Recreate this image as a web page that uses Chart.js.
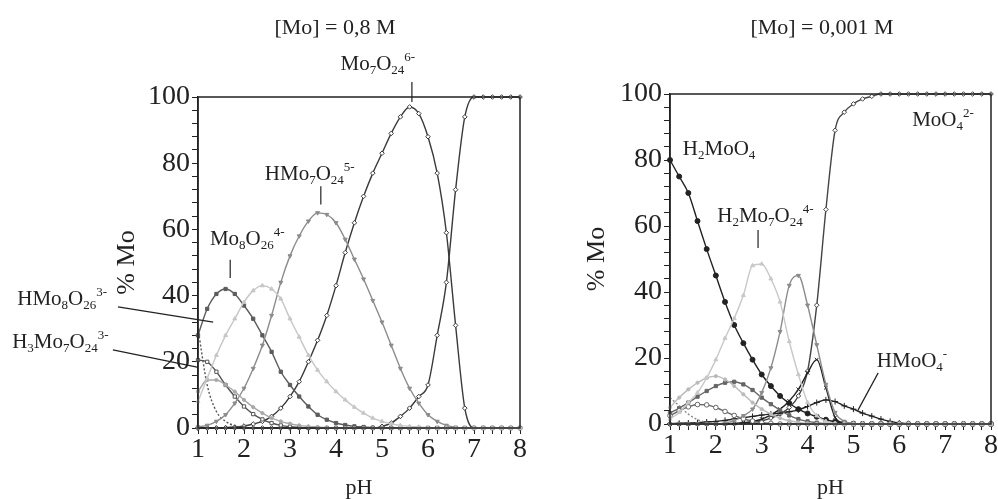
<!DOCTYPE html>
<html>
<head>
<meta charset="utf-8">
<script src="https://cdn.jsdelivr.net/npm/chart.js@4.4.1/dist/chart.umd.min.js"></script>
<style>
  body { margin: 0; background: #fff; }
  #wrap { position: relative; width: 998px; height: 499px; }
  canvas { position: absolute; top: 0; }
  #left { left: 0; }
  #right { left: 530px; }
</style>
</head>
<body>
<div id="wrap">
  <canvas id="left" width="530" height="499"></canvas>
  <canvas id="right" width="468" height="499"></canvas>
</div>
<script>
// valores de pH (iguais nos dois gráficos)
const phValues = [1.0, 1.2, 1.4, 1.6, 1.8, 2.0, 2.2, 2.4, 2.6, 2.8, 3.0, 3.2, 3.4, 3.6, 3.8, 4.0, 4.2, 4.4,
                  4.6, 4.8, 5.0, 5.2, 5.4, 5.6, 5.8, 6.0, 6.2, 6.4, 6.6, 6.8, 7.0, 7.2, 7.4, 7.6, 7.8, 8.0];

// [Mo] = 0,8 M  (% Mo)
const leftMo7O24 = [0, 0, 0, 0.1, 0.3, 0.6, 1.2, 2, 3.5, 6, 9.5, 14, 20, 26.5, 34, 43, 53, 62,
                    70, 77, 83, 89, 94, 97, 95, 88, 77, 59, 31, 6, 0, 0, 0, 0, 0, 0];
const leftMoO4 = [0, 0, 0, 0, 0, 0, 0, 0, 0, 0, 0, 0, 0, 0, 0, 0, 0, 0,
                  0, 0, 0.5, 1.5, 3.5, 6, 9.5, 13, 28, 44, 72, 94, 100, 100, 100, 100, 100, 100];
const leftHMo7O24 = [0.3, 0.8, 2, 4, 7.5, 12, 18, 25, 34, 44, 52, 58, 62.5, 65, 64.5, 62, 57, 51,
                     45, 38.5, 32, 25, 18, 12, 7.5, 4, 2, 0.8, 0.2, 0, 0, 0, 0, 0, 0, 0];
const leftLight = [8, 15, 22, 28, 33, 38, 41.5, 43, 42, 39, 33, 27.5, 22, 17.5, 14, 11, 8.5, 6.3,
                   4.5, 3, 2, 1.3, 0.8, 0.5, 0.3, 0.1, 0, 0, 0, 0, 0, 0, 0, 0, 0, 0];
const leftMo8O26 = [28, 36, 40.5, 42, 40.5, 37, 33, 28, 23, 17, 13, 9.5, 6.5, 4, 2.5, 1.5, 0.9, 0.5,
                    0.3, 0.1, 0, 0, 0, 0, 0, 0, 0, 0, 0, 0, 0, 0, 0, 0, 0, 0];
const leftH3Mo7O24 = [20.5, 20, 17, 13, 9.5, 6.5, 4.2, 2.6, 1.5, 0.8, 0.4, 0.2, 0, 0, 0, 0, 0, 0,
                      0, 0, 0, 0, 0, 0, 0, 0, 0, 0, 0, 0, 0, 0, 0, 0, 0, 0];
const leftMidLight = [11, 14.5, 14.5, 13, 11, 8.5, 6.3, 4.5, 3, 2, 1.3, 0.8, 0.5, 0.3, 0.1, 0, 0, 0,
                      0, 0, 0, 0, 0, 0, 0, 0, 0, 0, 0, 0, 0, 0, 0, 0, 0, 0];
const leftHMo8O26 = [30, 13, 5, 2, 0.7, 0.2, 0, 0, 0, 0, 0, 0, 0, 0, 0, 0, 0, 0,
                     0, 0, 0, 0, 0, 0, 0, 0, 0, 0, 0, 0, 0, 0, 0, 0, 0, 0];

// [Mo] = 0,001 M  (% Mo)
const rightH2MoO4 = [80, 75, 70, 61.5, 53, 45, 37, 30, 24.5, 19.5, 15, 11.5, 8.5, 6.3, 4.5, 3.2, 2.2, 1.3,
                     0.7, 0.3, 0.1, 0, 0, 0, 0, 0, 0, 0, 0, 0, 0, 0, 0, 0, 0, 0];
const rightMoO4 = [0, 0, 0, 0, 0, 0, 0, 0, 0.3, 0.6, 1, 1.8, 3, 5, 8.5, 16, 36, 65,
                   89, 94.5, 97, 98.5, 99.3, 100, 100, 100, 100, 100, 100, 100, 100, 100, 100, 100, 100, 100];
const rightH2Mo7O24 = [1.5, 3.5, 6.5, 9.5, 14, 19.5, 26, 32, 39, 48, 48.5, 44, 37, 25, 15, 6.5, 2.5, 0.8,
                       0.2, 0, 0, 0, 0, 0, 0, 0, 0, 0, 0, 0, 0, 0, 0, 0, 0, 0];
const rightMid = [0, 0, 0, 0, 0, 0, 0.3, 1, 2.5, 4.5, 9.5, 17, 28, 42, 45, 36, 24, 12,
                  3.5, 0.8, 0.2, 0, 0, 0, 0, 0, 0, 0, 0, 0, 0, 0, 0, 0, 0, 0];
const rightSharp = [0, 0, 0, 0, 0, 0, 0.1, 0.2, 0.4, 0.8, 1.5, 2.8, 4.5, 7, 10.5, 15.5, 19.5, 11,
                    2, 0.3, 0, 0, 0, 0, 0, 0, 0, 0, 0, 0, 0, 0, 0, 0, 0, 0];
const rightHMoO4 = [0.1, 0.2, 0.3, 0.4, 0.6, 0.8, 1.1, 1.5, 1.9, 2.3, 2.7, 3, 3.3, 3.7, 4.3, 5.3, 6.5, 7.3,
                    6.8, 5.5, 4.5, 3.3, 2.4, 1.5, 0.8, 0.3, 0.1, 0, 0, 0, 0, 0, 0, 0, 0, 0];
const rightSquares = [3.3, 4.8, 6.5, 8.3, 10, 11.5, 12.5, 12.8, 12, 10.3, 8, 6, 4.2, 2.6, 1.5, 0.8, 0.4, 0.1,
                      0, 0, 0, 0, 0, 0, 0, 0, 0, 0, 0, 0, 0, 0, 0, 0, 0, 0];
const rightLight = [5, 8, 10.5, 12.5, 14, 14.5, 13.5, 11.5, 9, 6.5, 4.5, 3, 1.8, 1, 0.5, 0.2, 0, 0,
                    0, 0, 0, 0, 0, 0, 0, 0, 0, 0, 0, 0, 0, 0, 0, 0, 0, 0];
const rightCircles = [2.5, 4, 5.2, 5.9, 5.8, 5, 3.8, 2.6, 1.6, 0.9, 0.4, 0.2, 0, 0, 0, 0, 0, 0,
                      0, 0, 0, 0, 0, 0, 0, 0, 0, 0, 0, 0, 0, 0, 0, 0, 0, 0];
const rightDashed = [8, 5.5, 3, 1.3, 0.5, 0.2, 0, 0, 0, 0, 0, 0, 0, 0, 0, 0, 0, 0,
                     0, 0, 0, 0, 0, 0, 0, 0, 0, 0, 0, 0, 0, 0, 0, 0, 0, 0];

const serif = '"Liberation Serif", "Times New Roman", serif';
const ink = '#222';

function toPoints(values) {
    return phValues.map(function (ph, i) { return { x: ph, y: values[i] }; });
}

function series(label, values, color, style, extra) {
    return Object.assign({
        label: label,
        data: toPoints(values),
        borderColor: color,
        backgroundColor: color,
        pointBorderColor: color,
        pointBackgroundColor: color,
        borderWidth: 1.4,
        pointStyle: style,
        pointRadius: 2.3,
        pointBorderWidth: 1,
        cubicInterpolationMode: 'monotone',
        clip: 3
    }, extra || {});
}

// desenha fórmula com índices (_) e cargas (^)
function drawFormula(ctx, text, x, y, align) {
    const parts = [];
    let i = 0;
    while (i < text.length) {
        if (text[i] === '_') {
            let j = i + 1;
            while (j < text.length && /\d/.test(text[j])) j++;
            parts.push({ t: text.slice(i + 1, j), k: 'sub' });
            i = j;
        } else if (text[i] === '^') {
            parts.push({ t: text.slice(i + 1), k: 'sup' });
            i = text.length;
        } else {
            let j = i;
            while (j < text.length && text[j] !== '_' && text[j] !== '^') j++;
            parts.push({ t: text.slice(i, j), k: 'n' });
            i = j;
        }
    }
    const big = '21px ' + serif, small = '13px ' + serif;
    let total = 0;
    parts.forEach(function (p) {
        ctx.font = p.k === 'n' ? big : small;
        p.w = ctx.measureText(p.t).width;
        total += p.w;
    });
    let cx = align === 'center' ? x - total / 2 : x;
    ctx.textAlign = 'left';
    ctx.textBaseline = 'alphabetic';
    parts.forEach(function (p) {
        ctx.font = p.k === 'n' ? big : small;
        const dy = p.k === 'sub' ? 4 : (p.k === 'sup' ? -9 : 0);
        ctx.fillText(p.t, cx, y + dy);
        cx += p.w;
    });
}

const speciesPlugin = {
    id: 'species',
    afterDatasetsDraw: function (chart, args, opts) {
        const ctx = chart.ctx;
        const xs = chart.scales.x, ys = chart.scales.y;
        const area = chart.chartArea;
        ctx.save();
        // moldura
        ctx.strokeStyle = ink;
        ctx.lineWidth = 1.5;
        ctx.strokeRect(area.left, area.top, area.right - area.left, area.bottom - area.top);
        // título
        ctx.fillStyle = ink;
        ctx.font = '22px ' + serif;
        ctx.textAlign = 'center';
        ctx.textBaseline = 'alphabetic';
        ctx.fillText(opts.title.text, opts.title.x, opts.title.y);
        // linhas indicadoras
        ctx.lineWidth = 1.2;
        (opts.leaders || []).forEach(function (l) {
            ctx.beginPath();
            ctx.moveTo(xs.getPixelForValue(l[0]), ys.getPixelForValue(l[1]));
            ctx.lineTo(xs.getPixelForValue(l[2]), ys.getPixelForValue(l[3]));
            ctx.stroke();
        });
        (opts.labels || []).forEach(function (lb) {
            drawFormula(ctx, lb.text, xs.getPixelForValue(lb.x), ys.getPixelForValue(lb.y), lb.align);
        });
        ctx.restore();
    }
};

function makeOptions(axisWidth, axisHeight, padLeft, padTop, padRight, species) {
    return {
        responsive: false,
        animation: false,
        layout: { padding: { left: padLeft, top: padTop, right: padRight, bottom: 0 } },
        plugins: { legend: { display: false }, tooltip: { enabled: false }, species: species },
        scales: {
            x: {
                type: 'linear', min: 1, max: 8,
                afterFit: function (s) { s.height = axisHeight; },
                ticks: {
                    stepSize: 0.2, autoSkip: false, maxRotation: 0, padding: 0, color: ink,
                    font: { family: serif, size: 28, lineHeight: 1.1 },
                    callback: function (v) { const r = Math.round(v * 10) / 10; return Number.isInteger(r) ? r : ''; }
                },
                grid: { drawOnChartArea: false, tickLength: 6, color: ink, lineWidth: 1 },
                border: { color: ink, width: 1.5 },
                title: { display: true, text: 'pH', color: ink, font: { family: serif, size: 22, lineHeight: 1 }, padding: 0 }
            },
            y: {
                min: 0, max: 100,
                afterFit: function (s) { s.width = axisWidth; },
                ticks: {
                    stepSize: 4, autoSkip: false, padding: 2, color: ink,
                    font: { family: serif, size: 28, lineHeight: 1.1 },
                    callback: function (v) { return v % 20 === 0 ? v : ''; }
                },
                grid: { drawOnChartArea: false, tickLength: 6, color: ink, lineWidth: 1 },
                border: { color: ink, width: 1.5 },
                title: { display: true, text: '% Mo', color: ink, font: { family: serif, size: 26, lineHeight: 1 }, padding: 0 }
            }
        }
    };
}

// Gráfico [Mo] = 0,8 M
new Chart(document.getElementById('left'), {
    type: 'line',
    data: {
        datasets: [
            series('Mo8O26 (claro)', leftLight, '#c6c6c6', 'triangle'),
            series('cinza médio', leftMidLight, '#a8a8a8', 'circle', { pointRadius: 1.6 }),
            series('HMo7O24 5-', leftHMo7O24, '#8c8c8c', 'triangle', { pointRotation: 180 }),
            series('HMo8O26 3-', leftHMo8O26, '#555', false, { borderDash: [2, 2], pointRadius: 0 }),
            series('H3Mo7O24 3-', leftH3Mo7O24, '#555', 'rect', { pointBackgroundColor: '#fff' }),
            series('Mo8O26 4-', leftMo8O26, '#5c5c5c', 'rect'),
            series('MoO4 2-', leftMoO4, '#3a3a3a', 'rectRot', { pointBackgroundColor: '#fff' }),
            series('Mo7O24 6-', leftMo7O24, '#3a3a3a', 'rectRot', { pointBackgroundColor: '#fff' })
        ]
    },
    options: makeOptions(84, 71, 114, 97, 10, {
        title: { text: '[Mo] = 0,8 M', x: 335, y: 34 },
        labels: [
            { text: 'Mo_7O_24^6-', x: 4.91, y: 108.2, align: 'center' },
            { text: 'HMo_7O_24^5-', x: 3.43, y: 74.9, align: 'center' },
            { text: 'Mo_8O_26^4-', x: 2.07, y: 55.3, align: 'center' },
            { text: 'HMo_8O_26^3-', x: -2.93, y: 37.2, align: 'left' },
            { text: 'H_3Mo_7O_24^3-', x: -3.04, y: 24.2, align: 'left' }
        ],
        leaders: [
            [5.65, 104.5, 5.65, 98.5],
            [3.67, 73, 3.67, 67.5],
            [1.7, 50.8, 1.7, 45.3],
            [-0.74, 36.6, 1.33, 32],
            [-0.85, 23.6, 0.98, 18.4]
        ]
    }),
    plugins: [speciesPlugin]
});

// Gráfico [Mo] = 0,001 M
new Chart(document.getElementById('right'), {
    type: 'line',
    data: {
        datasets: [
            series('H2Mo7O24 4-', rightH2Mo7O24, '#c8c8c8', 'triangle'),
            series('cinza claro', rightLight, '#bababa', 'circle', { pointRadius: 1.6 }),
            series('cinza médio', rightMid, '#8c8c8c', 'triangle', { pointRotation: 180 }),
            series('tracejado', rightDashed, '#888', false, { borderDash: [2, 2], pointRadius: 0 }),
            series('círculos', rightCircles, '#666', 'circle', { pointBackgroundColor: '#fff' }),
            series('quadrados', rightSquares, '#666', 'rect'),
            series('HMoO4 -', rightHMoO4, '#222', 'cross', { pointRadius: 3 }),
            series('pico agudo', rightSharp, '#222', 'crossRot', { pointRadius: 2.6 }),
            series('MoO4 2-', rightMoO4, '#444', 'rectRot', { pointBackgroundColor: '#fff' }),
            series('H2MoO4', rightH2MoO4, '#222', 'circle', { pointRadius: 2.5 })
        ]
    },
    options: makeOptions(86, 75, 54, 94, 7, {
        title: { text: '[Mo] = 0,001 M', x: 292, y: 34 },
        labels: [
            { text: 'H_2MoO_4', x: 1.28, y: 81.5, align: 'left' },
            { text: 'H_2Mo_7O_24^4-', x: 2.03, y: 61.2, align: 'left' },
            { text: 'MoO_4^2-', x: 6.28, y: 90.3, align: 'left' },
            { text: 'HMoO_4^-', x: 5.51, y: 17.3, align: 'left' }
        ],
        leaders: [
            [2.92, 58.8, 2.92, 53.3],
            [5.54, 15.5, 5.1, 4.2]
        ]
    }),
    plugins: [speciesPlugin]
});
</script>
</body>
</html>
